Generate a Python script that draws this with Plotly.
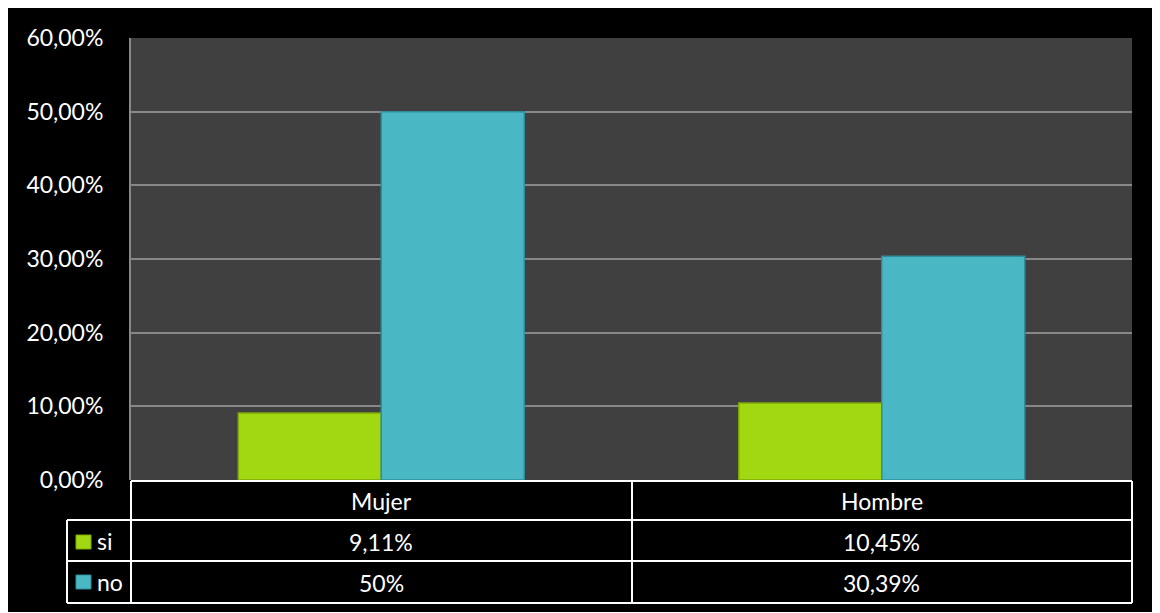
import plotly.graph_objects as go

categories = ["Mujer", "Hombre"]
series_names = ["si", "no"]
si_values = [9.11, 10.45]
no_values = [50.0, 30.39]
si_labels = ["9,11%", "10,45%"]
no_labels = ["50%", "30,39%"]
y_tickvals = [0, 10, 20, 30, 40, 50, 60]
y_ticktext = ["0,00%", "10,00%", "20,00%", "30,00%", "40,00%", "50,00%", "60,00%"]

OFF = 8  # page body margin
W, H = 1152, 604
L, R, T, B = 131 - OFF, 1132 - OFF, 38 - OFF, 480 - OFF
FONT = "Lato"
FS = 23

def px(x):
    return (x - OFF - L) / (R - L)

def py(y):
    return (B - (y - OFF)) / (B - T)

colors = {"si": "#a2d812", "no": "#4ab8c4"}
line_colors = {"si": "#7fa80a", "no": "#2f8e99"}

fig = go.Figure()
for name, vals in zip(series_names, [si_values, no_values]):
    fig.add_trace(go.Bar(
        x=categories, y=vals, name=name,
        marker=dict(color=colors[name], line=dict(color=line_colors[name], width=1.5)),
        showlegend=False,
    ))

shapes = []
wl = dict(color="white", width=2)
# horizontal table lines
shapes.append(dict(type="line", xref="paper", yref="paper", x0=px(131), x1=px(1132), y0=py(481), y1=py(481), line=wl))
for yy in [520, 561, 603]:
    shapes.append(dict(type="line", xref="paper", yref="paper", x0=px(67), x1=px(1132), y0=py(yy), y1=py(yy), line=wl))
# vertical table lines
shapes.append(dict(type="line", xref="paper", yref="paper", x0=px(67), x1=px(67), y0=py(520), y1=py(603), line=wl))
for xx in [131, 632, 1132]:
    shapes.append(dict(type="line", xref="paper", yref="paper", x0=px(xx), x1=px(xx), y0=py(481), y1=py(603), line=wl))
# legend keys
for name, yc in zip(series_names, [542, 582]):
    shapes.append(dict(type="rect", xref="paper", yref="paper", x0=px(76), x1=px(91), y0=py(yc + 7), y1=py(yc - 7),
                       fillcolor=colors[name], line=dict(color=line_colors[name], width=1)))

annotations = []
for cat in categories:
    annotations.append(dict(x=cat, y=py(501), xref="x", yref="paper", text=cat, showarrow=False,
                            font=dict(color="white", size=FS, family=FONT), xanchor="center", yanchor="middle"))
for labels, yc in zip([si_labels, no_labels], [542, 583]):
    for cat, lab in zip(categories, labels):
        annotations.append(dict(x=cat, y=py(yc), xref="x", yref="paper", text=lab, showarrow=False,
                                font=dict(color="white", size=FS, family=FONT), xanchor="center", yanchor="middle"))
for name, yc in zip(series_names, [541, 582]):
    annotations.append(dict(x=px(95), y=py(yc), xref="paper", yref="paper", text=name, showarrow=False,
                            font=dict(color="white", size=FS, family=FONT), xanchor="left", yanchor="middle"))

fig.update_layout(
    width=W, height=H,
    margin=dict(l=L, r=W - R, t=T, b=H - B, pad=0),
    paper_bgcolor="black",
    plot_bgcolor="#404040",
    barmode="group",
    bargap=0.4286,
    bargroupgap=0,
    shapes=shapes,
    annotations=annotations,
    showlegend=False,
    font=dict(family=FONT, color="white", size=FS),
    xaxis=dict(showticklabels=False, showgrid=False, zeroline=False, showline=False, ticks=""),
    yaxis=dict(range=[0, 60], tickvals=y_tickvals, ticktext=y_ticktext,
               showgrid=True, gridcolor="#888888", gridwidth=2,
               zeroline=False, showline=True, linecolor="#888888", linewidth=2,
               ticks="", ticklabelstandoff=21,
               tickfont=dict(color="white", size=FS, family=FONT)),
)

fig.write_html("out.html")
